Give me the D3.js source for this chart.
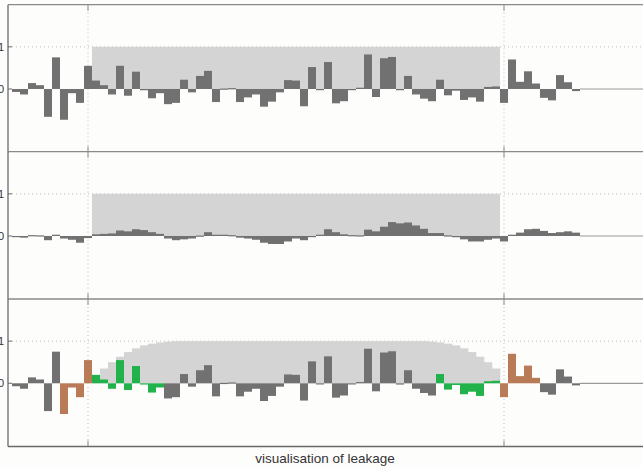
<!DOCTYPE html>
<html>
<head>
<meta charset="utf-8">
<script src="https://cdn.jsdelivr.net/npm/d3@7"></script>
<style>
  body { margin: 0; background: #fdfdfc; }
  text { font-family: "Liberation Sans", Arial, sans-serif; }
</style>
</head>
<body>
<script>
// sample index of first value, signal runs k = -9 .. 61
var firstSample = -9;

// raw signal (top and bottom panel)
var signal = [
  -0.07, -0.13, 0.14, 0.09, -0.66, 0.75, -0.73, -0.10, -0.33, 0.55,
   0.20, 0.09, -0.13, 0.55, -0.16, 0.41, -0.03, -0.22, -0.10, -0.36,
  -0.33, 0.22, -0.08, 0.31, 0.43, -0.31, 0.01, 0.02, -0.31, -0.20,
  -0.13, -0.42, -0.30, -0.08, 0.21, 0.20, -0.41, 0.52, -0.01, 0.64,
  -0.34, -0.29, 0.00, 0.03, 0.82, -0.19, 0.73, 0.76, -0.03, 0.31,
  -0.13, -0.23, -0.29, 0.22, -0.15, -0.04, -0.26, -0.20, -0.30, 0.05,
   0.06, -0.33, 0.70, 0.17, 0.42, 0.13, -0.21, -0.27, 0.33, 0.16,
  -0.05
];

// smoothed signal (middle panel)
var smooth = [
  -0.02, -0.04, 0.02, 0.015, -0.10, 0.03, -0.06, -0.09, -0.16, -0.05,
   0.04, 0.05, 0.06, 0.13, 0.11, 0.16, 0.14, 0.09, 0.05, -0.06,
  -0.10, -0.08, -0.06, 0.01, 0.09, 0.03, 0.03, 0.02, -0.04, -0.06,
  -0.09, -0.16, -0.19, -0.19, -0.13, -0.06, -0.10, -0.02, 0.03, 0.16,
   0.09, 0.04, 0.02, 0.015, 0.15, 0.11, 0.22, 0.33, 0.30, 0.32,
   0.25, 0.17, 0.07, 0.07, 0.015, -0.03, -0.08, -0.13, -0.13, -0.09,
  -0.06, -0.13, 0.03, 0.08, 0.16, 0.17, 0.12, 0.07, 0.09, 0.11,
   0.08
];

// window over samples 1..51
var windowStart = 1;
var taper = [
  0.18, 0.35, 0.50, 0.63, 0.74, 0.83, 0.90, 0.94, 0.97, 0.99,
  1, 1, 1, 1, 1, 1, 1, 1, 1, 1,
  1, 1, 1, 1, 1, 1, 1, 1, 1, 1,
  1, 1, 1, 1, 1, 1, 1, 1, 1, 1,
  1, 1, 0.99, 0.97, 0.94, 0.90, 0.83, 0.74, 0.63, 0.50,
  0.35
];

var leakSamples  = [-3, -2, -1, 0, 52, 53, 54, 55, 56];
var taperSamples = [1, 2, 3, 4, 5, 6, 7, 8, 9, 44, 45, 46, 47, 48, 49, 50, 51];

var xTicks = [0, 52];
var yTicks = [0, 1];
var xLabel = "visualisation of leakage";

var W = 643, H = 467;
var left = 8, right = 648;
var panelTops = [4.7, 151.7, 299];
var panelH = 147.5;

var barCol = "#717171", shadeCol = "#d4d4d4", leakCol = "#b97b57", taperCol = "#22b24c";

var svg = d3.select("body").append("svg")
  .attr("width", W).attr("height", H)
  .style("display", "block");

var x = d3.scaleLinear().domain([-10, 70]).range([left, right]);

function drawPanel(p, values, mode) {
  var top = panelTops[p];
  var y = d3.scaleLinear().domain([-1.5, 2]).range([top + panelH, top]);
  var g = svg.append("g");

  // dotted grid
  g.selectAll(".hg").data([1]).enter().append("line")
    .attr("x1", left).attr("x2", right)
    .attr("y1", d => y(d)).attr("y2", d => y(d))
    .attr("stroke", "#bdbdbd").attr("stroke-dasharray", "1,3");
  g.selectAll(".vg").data(xTicks).enter().append("line")
    .attr("x1", d => x(d)).attr("x2", d => x(d))
    .attr("y1", top).attr("y2", top + panelH)
    .attr("stroke", "#bdbdbd").attr("stroke-dasharray", "1,3");

  // window shading
  if (mode == "tapered") {
    g.selectAll(".tw").data(taper).enter().append("rect")
      .attr("x", (d, i) => x(windowStart + i - 0.5))
      .attr("width", x(1) - x(0) + 0.3)
      .attr("y", d => y(d))
      .attr("height", d => y(0) - y(d))
      .attr("fill", shadeCol);
  } else {
    g.append("rect")
      .attr("x", x(windowStart - 0.5))
      .attr("width", x(windowStart + taper.length - 0.5) - x(windowStart - 0.5))
      .attr("y", y(1)).attr("height", y(0) - y(1))
      .attr("fill", shadeCol);
  }

  // zero line after the signal
  var lastK = firstSample + values.length - 1;
  g.append("line")
    .attr("x1", x(lastK + 0.5)).attr("x2", right)
    .attr("y1", y(0)).attr("y2", y(0))
    .attr("stroke", "#9a9a9a").attr("stroke-width", 1.2);

  // bars
  g.selectAll(".bar").data(values).enter().append("rect")
    .attr("x", (d, i) => x(firstSample + i - 0.5))
    .attr("width", x(1) - x(0))
    .attr("y", d => y(Math.max(0, d)))
    .attr("height", d => Math.max(1.2, Math.abs(y(d) - y(0))))
    .attr("fill", function(d, i) {
      if (mode != "tapered") return barCol;
      var k = firstSample + i;
      if (leakSamples.indexOf(k) >= 0) return leakCol;
      if (taperSamples.indexOf(k) >= 0) return taperCol;
      return barCol;
    });

  // frame: top border and left axis
  g.append("line")
    .attr("x1", left).attr("x2", W)
    .attr("y1", top).attr("y2", top)
    .attr("stroke", "#8a8a8a").attr("stroke-width", 1.3);
  g.append("line")
    .attr("x1", left).attr("x2", left)
    .attr("y1", top).attr("y2", top + panelH)
    .attr("stroke", "#6a6a6a").attr("stroke-width", 1.3);

  // ticks at top/bottom for x grid
  xTicks.forEach(function(t) {
    g.append("line").attr("x1", x(t)).attr("x2", x(t))
      .attr("y1", top).attr("y2", top + 6).attr("stroke", "#8a8a8a");
    g.append("line").attr("x1", x(t)).attr("x2", x(t))
      .attr("y1", top + panelH - 6).attr("y2", top + panelH).attr("stroke", "#8a8a8a");
  });

  // y tick labels
  g.selectAll(".yl").data(yTicks).enter().append("text")
    .attr("x", 4).attr("y", d => y(d) + 4)
    .attr("text-anchor", "end")
    .attr("font-size", 11)
    .attr("fill", "#333")
    .text(d => d);
  g.selectAll(".yt").data(yTicks).enter().append("line")
    .attr("x1", left).attr("x2", left + 4)
    .attr("y1", d => y(d)).attr("y2", d => y(d))
    .attr("stroke", "#6a6a6a");
}

drawPanel(0, signal, "rect");
drawPanel(1, smooth, "rect");
drawPanel(2, signal, "tapered");

// bottom border
svg.append("line")
  .attr("x1", left).attr("x2", W)
  .attr("y1", panelTops[2] + panelH).attr("y2", panelTops[2] + panelH)
  .attr("stroke", "#6a6a6a").attr("stroke-width", 1.3);

svg.append("text")
  .attr("x", 325).attr("y", 463)
  .attr("text-anchor", "middle")
  .attr("font-size", 13.5)
  .attr("fill", "#333")
  .text(xLabel);
</script>
</body>
</html>
